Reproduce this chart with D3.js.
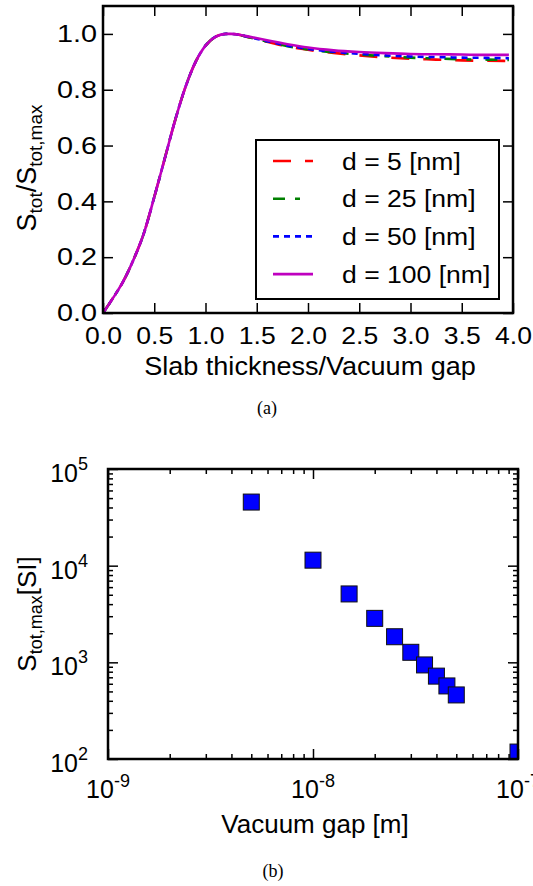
<!DOCTYPE html>
<html>
<head>
<meta charset="utf-8">
<script src="https://cdn.jsdelivr.net/npm/d3@7"></script>
<style>
body { margin: 0; background: #fff; }
svg { display: block; }
text { font-family: "Liberation Sans", Arial, sans-serif; fill: #000; }
</style>
</head>
<body>
<svg width="533" height="886"></svg>
<script>
// ---- data ----
var ratioX   = [0, 0.1, 0.2, 0.3, 0.4, 0.5, 0.6, 0.7, 0.8, 0.9, 1.0, 1.1, 1.2, 1.25, 1.3, 1.4, 1.6, 1.8, 2.0, 2.25, 2.5, 2.75, 3.0, 3.25, 3.5, 3.75, 3.96];
var ratioD5  = [0, 0.055, 0.115, 0.193, 0.287, 0.415, 0.55, 0.686, 0.805, 0.897, 0.958, 0.99, 1.0, 1.0, 0.999, 0.99, 0.972, 0.955, 0.943, 0.932, 0.923, 0.916, 0.911, 0.908, 0.905, 0.904, 0.903];
var ratioD25 = [0, 0.055, 0.115, 0.193, 0.287, 0.415, 0.55, 0.686, 0.805, 0.897, 0.958, 0.99, 1.0, 1.0, 0.999, 0.99, 0.973, 0.956, 0.944, 0.934, 0.926, 0.92, 0.915, 0.912, 0.909, 0.908, 0.907];
var ratioD50 = [0, 0.055, 0.115, 0.193, 0.287, 0.415, 0.55, 0.686, 0.805, 0.897, 0.958, 0.99, 1.0, 1.0, 0.999, 0.991, 0.974, 0.958, 0.946, 0.936, 0.929, 0.923, 0.919, 0.917, 0.915, 0.914, 0.913];
var ratioD100= [0, 0.055, 0.115, 0.193, 0.287, 0.415, 0.55, 0.686, 0.805, 0.897, 0.958, 0.99, 1.0, 1.0, 0.999, 0.992, 0.977, 0.963, 0.951, 0.941, 0.935, 0.931, 0.928, 0.927, 0.926, 0.925, 0.925];
var seriesNames = ['d = 5 [nm]', 'd = 25 [nm]', 'd = 50 [nm]', 'd = 100 [nm]'];
var seriesColors = ['#ff0000', '#008000', '#0000ff', '#bf00bf'];
var seriesDash = ['18,14', '12,10,5,14', '6,5', null];

var gapX = [5e-9, 1e-8, 1.5e-8, 2e-8, 2.5e-8, 3e-8, 3.5e-8, 4e-8, 4.5e-8, 5e-8, 1e-7];
var gapS = [45500, 11400, 5100, 2850, 1840, 1270, 940, 720, 570, 460, 118];

var topXTicks = [0, 0.5, 1.0, 1.5, 2.0, 2.5, 3.0, 3.5, 4.0];
var topYTicks = [0, 0.2, 0.4, 0.6, 0.8, 1.0];
var logXExp = [-9, -8, -7];
var logYExp = [2, 3, 4, 5];

var svg = d3.select('svg');
var stretchA = 1.13;   // panel (a) text is a bit wider than plain Arial

// ================= (a) =================
var w1 = 410, h1 = 307;
var g1 = svg.append('g').attr('transform', 'translate(103,6)');

var scaleX = d3.scaleLinear().domain([0, 4]).range([0, w1]);
var scaleY = d3.scaleLinear().domain([0, 1.1]).range([h1, 0]);

svg.append('clipPath').attr('id', 'clipA')
    .append('rect').attr('width', w1).attr('height', h1);

var allSeries = [ratioD5, ratioD25, ratioD50, ratioD100];
var line = d3.line()
    .x(function(d, i) { return scaleX(ratioX[i]); })
    .y(function(d) { return scaleY(d); })
    .curve(d3.curveMonotoneX);

var curves = g1.append('g').attr('clip-path', 'url(#clipA)');
allSeries.forEach(function(s, k) {
    curves.append('path')
        .attr('d', line(s))
        .attr('fill', 'none')
        .attr('stroke', seriesColors[k])
        .attr('stroke-width', 2.6)
        .attr('stroke-dasharray', seriesDash[k]);
});

function styleAxis(sel, size, sx) {
    sel.select('.domain').remove();
    sel.selectAll('line').attr('stroke', '#000').attr('stroke-width', 1.5);
    sel.selectAll('text').attr('font-size', size)
        .attr('font-family', '"Liberation Sans", Arial, sans-serif').attr('fill', '#000')
        .attr('transform', sx ? 'scale(' + sx + ',1)' : null);
}

g1.append('g').attr('transform', 'translate(0,' + h1 + ')')
    .call(d3.axisBottom(scaleX).tickValues(topXTicks).tickSize(-10).tickPadding(14).tickFormat(d3.format('.1f')))
    .call(styleAxis, 23.5, stretchA);
g1.append('g')
    .call(d3.axisTop(scaleX).tickValues(topXTicks).tickSize(-10).tickFormat(''))
    .call(styleAxis, 24);
g1.append('g')
    .call(d3.axisLeft(scaleY).tickValues(topYTicks).tickSize(-10).tickPadding(5).tickFormat(d3.format('.1f')))
    .call(styleAxis, 24, 1.2);
g1.append('g').attr('transform', 'translate(' + w1 + ',0)')
    .call(d3.axisRight(scaleY).tickValues(topYTicks).tickSize(-10).tickFormat(''))
    .call(styleAxis, 24);

g1.append('rect').attr('width', w1).attr('height', h1)
    .attr('fill', 'none').attr('stroke', '#000').attr('stroke-width', 2.5);

// legend
var leg = g1.append('g').attr('transform', 'translate(153,134)');
leg.append('rect').attr('width', 243).attr('height', 159)
    .attr('fill', '#fff').attr('stroke', '#000').attr('stroke-width', 2);
seriesNames.forEach(function(name, k) {
    var yy = 21 + k * 37.7;
    leg.append('line').attr('x1', 17).attr('x2', 57).attr('y1', yy).attr('y2', yy)
        .attr('stroke', seriesColors[k]).attr('stroke-width', 2.6)
        .attr('stroke-dasharray', seriesDash[k]);
    leg.append('text')
        .attr('transform', 'translate(86,' + (yy + 8.5) + ') scale(' + stretchA + ',1)')
        .attr('font-size', 23.5).text(name);
});

// axis titles
svg.append('text').attr('transform', 'translate(310,375) scale(1.04,1)').attr('text-anchor', 'middle')
    .attr('font-size', 26).text('Slab thickness/Vacuum gap');

var yl1 = svg.append('text').attr('text-anchor', 'middle').attr('font-size', 27)
    .attr('transform', 'translate(36,168) rotate(-90)');
yl1.append('tspan').text('S');
yl1.append('tspan').attr('font-size', 19).attr('dy', 6).text('tot');
yl1.append('tspan').attr('dy', -6).text('/S');
yl1.append('tspan').attr('font-size', 19).attr('dy', 6).text('tot,max');

svg.append('text').attr('x', 267).attr('y', 414).attr('text-anchor', 'middle')
    .style('font-family', '"Liberation Serif", "Times New Roman", serif')
    .attr('font-size', 18).text('(a)');

// ================= (b) =================
var w2 = 410, h2 = 290;
var g2 = svg.append('g').attr('transform', 'translate(108,469)');

var logX = d3.scaleLog().domain([1e-9, 1e-7]).range([0, w2]);
var logY = d3.scaleLog().domain([1e2, 1e5]).range([h2, 0]);

svg.append('clipPath').attr('id', 'clipB')
    .append('rect').attr('width', w2).attr('height', h2);

function minorVals(e0, e1) {
    var out = [];
    for (var e = e0; e < e1; e++) for (var k = 2; k <= 9; k++) out.push(k * Math.pow(10, e));
    return out;
}
var xMajor = logXExp.map(function(e) { return Math.pow(10, e); });
var yMajor = logYExp.map(function(e) { return Math.pow(10, e); });
var xMinor = minorVals(-9, -7);
var yMinor = minorVals(2, 5);

[[d3.axisBottom, xMajor, 10, h2], [d3.axisBottom, xMinor, 5, h2],
 [d3.axisTop, xMajor, 10, 0], [d3.axisTop, xMinor, 5, 0]].forEach(function(a) {
    g2.append('g').attr('transform', 'translate(0,' + a[3] + ')')
        .call(a[0](logX).tickValues(a[1]).tickSize(-a[2]).tickFormat(''))
        .call(styleAxis, 24);
});
[[d3.axisLeft, yMajor, 10, 0], [d3.axisLeft, yMinor, 5, 0],
 [d3.axisRight, yMajor, 10, w2], [d3.axisRight, yMinor, 5, w2]].forEach(function(a) {
    g2.append('g').attr('transform', 'translate(' + a[3] + ',0)')
        .call(a[0](logY).tickValues(a[1]).tickSize(-a[2]).tickFormat(''))
        .call(styleAxis, 24);
});

// tick labels with superscripts
logXExp.forEach(function(e) {
    var t = g2.append('text').attr('x', logX(Math.pow(10, e))).attr('y', h2 + 39)
        .attr('text-anchor', 'middle').attr('font-size', 25);
    t.append('tspan').text('10');
    t.append('tspan').attr('font-size', 18).attr('dy', -11).text(String(e));
});
logYExp.forEach(function(e) {
    var t = g2.append('text').attr('x', -20).attr('y', logY(Math.pow(10, e)) + 13)
        .attr('text-anchor', 'end').attr('font-size', 25);
    t.append('tspan').text('10');
    t.append('tspan').attr('font-size', 18).attr('dy', -12).text(String(e));
});

// markers
g2.append('g').attr('clip-path', 'url(#clipB)')
    .selectAll('rect.m')
    .data(gapX)
    .enter()
    .append('rect')
    .attr('class', 'm')
    .attr('x', function(d) { return logX(d) - 8; })
    .attr('y', function(d, i) { return logY(gapS[i]) - 8; })
    .attr('width', 16).attr('height', 16)
    .attr('fill', '#0000ff').attr('stroke', '#111').attr('stroke-width', 1);

g2.append('rect').attr('width', w2).attr('height', h2)
    .attr('fill', 'none').attr('stroke', '#000').attr('stroke-width', 2.5);

svg.append('text').attr('x', 315).attr('y', 833).attr('text-anchor', 'middle')
    .attr('font-size', 26).text('Vacuum gap [m]');

var yl2 = svg.append('text').attr('text-anchor', 'middle').attr('font-size', 26)
    .attr('transform', 'translate(36,614) rotate(-90)');
yl2.append('tspan').text('S');
yl2.append('tspan').attr('font-size', 18).attr('dy', 6).text('tot,max');
yl2.append('tspan').attr('dy', -6).text('[SI]');

svg.append('text').attr('x', 273).attr('y', 877).attr('text-anchor', 'middle')
    .style('font-family', '"Liberation Serif", "Times New Roman", serif')
    .attr('font-size', 18).text('(b)');
</script>
</body>
</html>
